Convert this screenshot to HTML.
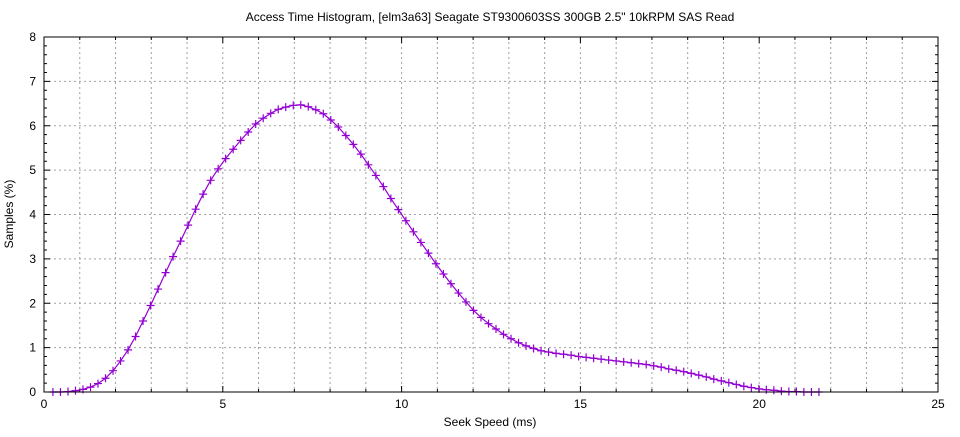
<!DOCTYPE html>
<html><head><meta charset="utf-8"><style>
html,body{margin:0;padding:0;background:#fff}
svg text{font-family:"Liberation Sans","DejaVu Sans",sans-serif;font-size:12px;fill:#000}
</style></head><body>
<svg id="chart" width="960" height="432" xmlns="http://www.w3.org/2000/svg">
<text x="490" y="21" text-anchor="middle">Access Time Histogram, [elm3a63] Seagate ST9300603SS 300GB 2.5" 10kRPM SAS Read</text>
<text x="490" y="426" text-anchor="middle">Seek Speed (ms)</text>
<text transform="translate(13,214) rotate(-90)" text-anchor="middle">Samples (%)</text>
<g id="grid"></g>
<g id="ticks"></g>
<g id="series"></g>
<rect x="44" y="37" width="894" height="355" fill="none" stroke="#000" stroke-width="1"/>
</svg>
<script>
const xStart = 0.25;
const xStep = 0.21;
const samples = [0,0,0.01,0.03,0.06,0.11,0.19,0.31,0.48,0.7,0.95,1.25,1.6,1.95,2.32,2.69,3.05,3.4,3.76,4.12,4.46,4.77,5.03,5.26,5.47,5.67,5.86,6.04,6.17,6.28,6.37,6.42,6.46,6.47,6.43,6.36,6.27,6.13,5.97,5.78,5.58,5.36,5.12,4.88,4.63,4.36,4.11,3.86,3.61,3.37,3.13,2.89,2.66,2.44,2.23,2.03,1.84,1.68,1.54,1.42,1.3,1.2,1.11,1.04,0.98,0.93,0.9,0.87,0.85,0.83,0.8,0.78,0.76,0.74,0.72,0.7,0.68,0.66,0.64,0.62,0.59,0.56,0.52,0.49,0.46,0.42,0.38,0.34,0.29,0.25,0.21,0.17,0.13,0.1,0.07,0.05,0.04,0.02,0.01,0.01,0,0,0];
const xTickLabels = ["0","5","10","15","20","25"];
const yTickLabels = ["0","1","2","3","4","5","6","7","8"];
const NS="http://www.w3.org/2000/svg";
const L=44,R=938,T=37,B=392,xMax=25,yMax=8;
const sx=v=>L+(R-L)*v/xMax, sy=v=>B-(B-T)*v/yMax;
function mk(tag,attrs,parent){const e=document.createElementNS(NS,tag);for(const k in attrs)e.setAttribute(k,attrs[k]);parent.appendChild(e);return e;}
const grid=document.getElementById('grid'),ticks=document.getElementById('ticks'),ser=document.getElementById('series');
for(let i=1;i<xMax;i++){const x=sx(i);
 const g=mk('line',{x1:x,x2:x,y1:T,y2:B,stroke:'#a0a0a0','stroke-dasharray':'2,3'},grid);
 
 const len=(i%5===0)?6:3;
 mk('line',{x1:x,x2:x,y1:B,y2:B-len,stroke:'#000'},ticks);
 mk('line',{x1:x,x2:x,y1:T,y2:T+len,stroke:'#000'},ticks);}
for(let i=1;i<yMax;i++){const y=sy(i);
 const g=mk('line',{x1:L,x2:R,y1:y,y2:y,stroke:'#a0a0a0','stroke-dasharray':'2,3'},grid);
 }
for(let v=0;v<=yMax*5;v++){const y=sy(v/5);const len=(v%5===0)?6:3;
 mk('line',{x1:L,x2:L+len,y1:y,y2:y,stroke:'#000'},ticks);
 mk('line',{x1:R,x2:R-len,y1:y,y2:y,stroke:'#000'},ticks);}
xTickLabels.forEach(s=>{const t=mk('text',{x:sx(+s),y:B+16,'text-anchor':'middle'},ticks);t.textContent=s;
 });
yTickLabels.forEach(s=>{const t=mk('text',{x:L-8,y:sy(+s)+4,'text-anchor':'end'},ticks);t.textContent=s;
 });
const pts=samples.map((v,i)=>[sx(xStart+i*xStep),sy(v)]);
const line=mk('polyline',{points:pts.map(p=>p.join(',')).join(' '),fill:'none',stroke:'#9400d3','stroke-width':1.2},ser);

pts.forEach(p=>{const m=mk('path',{d:`M${p[0]-4},${p[1]}h8M${p[0]},${p[1]-4}v8`,stroke:'#9400d3','stroke-width':1.2},ser);
 });
</script>
</body></html>
